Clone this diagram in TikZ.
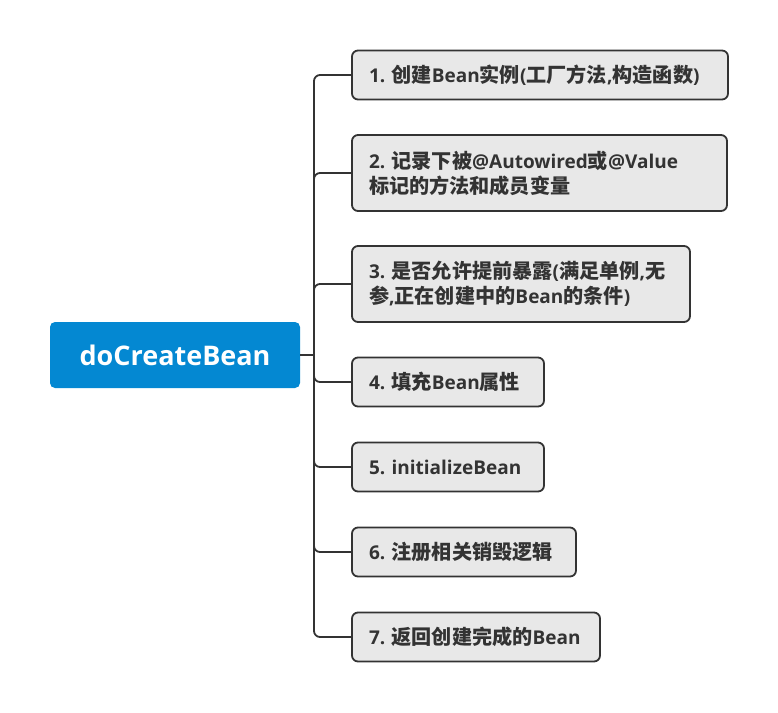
\documentclass[tikz,border=0pt]{standalone}
\usepackage{fontspec}
\setmainfont{Open Sans}
\newfontfamily\cjk{Noto Sans CJK SC}[Scale=1.06]
\usetikzlibrary{positioning}

\definecolor{rootblue}{RGB}{4,136,210}
\definecolor{boxgray}{RGB}{232,232,232}
\definecolor{inkgray}{RGB}{51,51,51}

\begin{document}
\begin{tikzpicture}[x=1pt, y=-1pt,
    root/.style    = {fill=rootblue, rounded corners=5pt, text=white,
                      font=\bfseries\fontsize{27}{30}\selectfont,
                      minimum width=250pt, minimum height=66pt},
    stepbox/.style = {draw=inkgray, line width=1.8pt, fill=boxgray,
                      rounded corners=6pt, anchor=west, outer sep=0pt,
                      inner xsep=17pt, align=left, text width=#1,
                      text=inkgray, minimum height=49pt,
                      font=\bfseries\fontsize{19}{25}\selectfont},
    branch/.style  = {draw=inkgray, line width=1.8pt, rounded corners=6pt}]
  \useasboundingbox (0,0) rectangle (778,712);

  % root of the map
  \node [root] (root) at (175,355) {doCreateBean};
  \coordinate (hub) at (314,355);

  % the seven steps
  \node [stepbox=342] (s1) at (352,75)
    {1.~{\cjk 创建}Bean{\cjk 实例}({\cjk 工厂方法},{\cjk 构造函数})};
  \node [stepbox=341, minimum height=76pt] (s2) at (352,173)
    {2.~{\cjk 记录下被}@Autowired{\cjk 或}@Value\\{\cjk 标记的方法和成员变量}};
  \node [stepbox=304, minimum height=76pt] (s3) at (352,284)
    {3.~{\cjk 是否允许提前暴露}({\cjk 满足单例},{\cjk 无}\\{\cjk 参},{\cjk 正在创建中的}Bean{\cjk 的条件})};
  \node [stepbox=158] (s4) at (352,382) {4.~{\cjk 填充}Bean{\cjk 属性}};
  \node [stepbox=158] (s5) at (352,467) {5.~initializeBean};
  \node [stepbox=190] (s6) at (352,552) {6.~{\cjk 注册相关销毁逻辑}};
  \node [stepbox=214] (s7) at (352,637) {7.~{\cjk 返回创建完成的}Bean};

  % connectors
  \draw [branch] (root.east) -- (hub);
  \foreach \i in {1,...,7} {
    \draw [branch] (hub) |- (s\i.west);
  }
\end{tikzpicture}
\end{document}
